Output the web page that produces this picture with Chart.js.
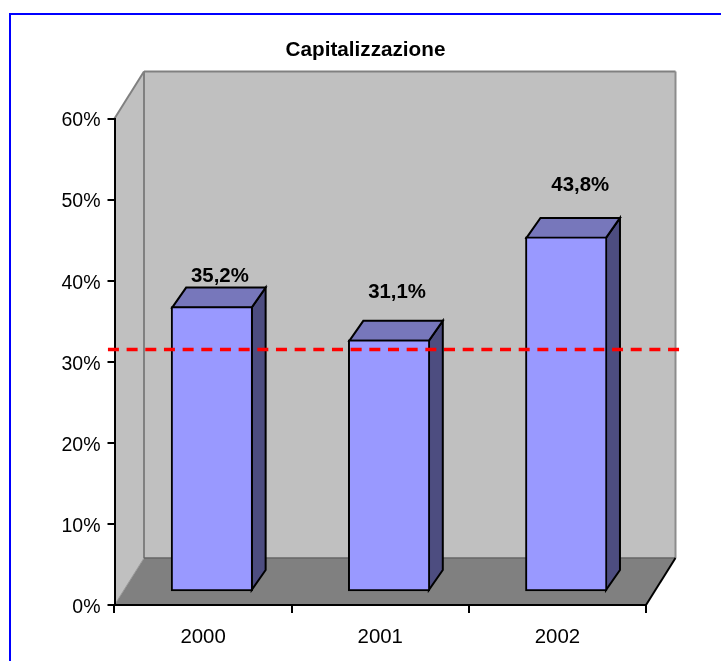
<!DOCTYPE html>
<html>
<head>
<meta charset="utf-8">
<script src="https://cdn.jsdelivr.net/npm/chart.js@4"></script>
<style>
    html, body { margin: 0; background: #fff; }
    #frame { position: absolute; left: 9px; top: 12.5px; width: 712px; height: 649px; border-left: 2px solid #00f; border-top: 2px solid #00f; box-sizing: border-box; }
    canvas { position: absolute; left: 0; top: 0; }
</style>
</head>
<body>
<canvas id="myChart" width="721" height="661"></canvas>
<div id="frame"></div>
<script>
const years = ['2000', '2001', '2002'];
const capitalizzazione = [35.2, 31.1, 43.8];
const yTicksMax = 60;
const yTicksStep = 10;
// the red dashed line runs past both ends of the axis
const redLineX = [-0.537, 2.697];
const redLineY = [31.5, 31.5];
// where each label floats relative to its bar, px
const labelLift = [32, 49, 53];
const labelShift = [8, 8, 14];

const wallDx = 29.5, wallDy = -47;
const barDx = 8.8, barDy = -13;
const sideDx = 14, sideDy = -20;
const fontName = '"Liberation Sans", Arial, sans-serif';

function poly(ctx, pts, fill, stroke, lw) {
    ctx.beginPath();
    pts.forEach((p, i) => i ? ctx.lineTo(p[0], p[1]) : ctx.moveTo(p[0], p[1]));
    ctx.closePath();
    ctx.fillStyle = fill;
    ctx.fill();
    if (stroke) {
        ctx.strokeStyle = stroke;
        ctx.lineWidth = lw;
        ctx.lineJoin = 'miter';
        ctx.stroke();
    }
}

function seg(ctx, x1, y1, x2, y2, color, lw) {
    ctx.beginPath();
    ctx.moveTo(x1, y1);
    ctx.lineTo(x2, y2);
    ctx.strokeStyle = color;
    ctx.lineWidth = lw;
    ctx.stroke();
}

const boxWalls = {
    id: 'boxWalls',
    beforeDraw(chart) {
        const { ctx, chartArea: a } = chart;
        const bx = a.left + wallDx, tx = a.right + wallDx;
        const by = a.bottom + wallDy, ty = a.top + wallDy;
        ctx.save();
        // back wall, side wall, floor
        poly(ctx, [[bx, ty], [tx, ty], [tx, by], [bx, by]], '#c0c0c0');
        poly(ctx, [[a.left, a.top], [bx, ty], [bx, by], [a.left, a.bottom]], '#c0c0c0');
        poly(ctx, [[a.left, a.bottom], [a.right, a.bottom], [tx, by], [bx, by]], '#808080');
        seg(ctx, bx, ty, tx, ty, '#808080', 2);
        seg(ctx, tx, ty, tx, by, '#8c8c8c', 2);
        seg(ctx, bx, ty, bx, by, '#808080', 2);
        seg(ctx, a.left, a.top, bx, ty, '#808080', 2);
        seg(ctx, a.left, a.bottom, bx, by, '#999', 1);
        seg(ctx, bx, by, tx, by, '#666', 1.5);
        seg(ctx, a.right, a.bottom, tx, by, '#000', 2);
        ctx.restore();
    }
};

const bars3d = {
    id: 'bars3d',
    beforeDatasetDraw(chart, args) {
        if (args.index !== 0) return;
        const ctx = chart.ctx;
        ctx.save();
        ctx.translate(barDx, barDy);
        chart.getDatasetMeta(0).data.forEach(el => {
            const r = el.x + el.width / 2 - 1, l = el.x - el.width / 2 + 1;
            const t = el.y + 1, b = el.base - 1;
            poly(ctx, [[r, t], [r + sideDx, t + sideDy], [r + sideDx, b + sideDy], [r, b]], '#4d4d80', '#000', 2);
            poly(ctx, [[l, t], [l + sideDx, t + sideDy], [r + sideDx, t + sideDy], [r, t]], '#7777bb', '#000', 2);
        });
    },
    afterDatasetDraw(chart, args) {
        if (args.index === 0) chart.ctx.restore();
    },
    afterDatasetsDraw(chart) {
        const ctx = chart.ctx;
        ctx.save();
        ctx.font = 'bold 20.4px ' + fontName;
        ctx.fillStyle = '#000';
        ctx.textAlign = 'center';
        ctx.textBaseline = 'middle';
        chart.getDatasetMeta(0).data.forEach((el, i) => {
            const txt = capitalizzazione[i].toFixed(1).replace('.', ',') + '%';
            ctx.fillText(txt, el.x + barDx + labelShift[i], el.y + barDy - labelLift[i] + 1.5);
        });
        ctx.restore();
    }
};

const chart = new Chart(document.getElementById('myChart'), {
    data: {
        labels: years,
        datasets: [{
            type: 'bar',
            label: 'Capitalizzazione',
            data: capitalizzazione,
            backgroundColor: '#9999ff',
            borderColor: '#000',
            borderWidth: 2,
            borderSkipped: false,
            barThickness: 81.5,
            clip: false,
            order: 2
        }, {
            type: 'line',
            parsing: false,
            data: redLineX.map((x, i) => ({ x: x, y: redLineY[i] })),
            borderColor: '#ff0000',
            borderWidth: 3.5,
            borderDash: [11, 7.67],
            pointRadius: 0,
            clip: false,
            order: 1
        }]
    },
    plugins: [boxWalls, bars3d],
    options: {
        responsive: false,
        animation: false,
        layout: { padding: { left: 10, right: 0, top: 0, bottom: 0 } },
        plugins: {
            legend: { display: false },
            tooltip: { enabled: false },
            title: {
                display: true,
                text: 'Capitalizzazione',
                color: '#000',
                font: { family: fontName, size: 20.7, weight: 'bold' },
                padding: { top: 38, bottom: 55.7 }
            }
        },
        scales: {
            x: {
                afterFit(scale) { scale.height = 56; },
                grid: { drawOnChartArea: false, color: '#000', tickLength: 8, lineWidth: 2 },
                border: { color: '#000', width: 2 },
                ticks: { color: '#000', padding: 12, font: { family: fontName, size: 20.4 } }
            },
            y: {
                min: 0,
                max: yTicksMax,
                afterFit(scale) { scale.width = 104.5; },
                grid: { drawOnChartArea: false, color: '#000', tickLength: 7, lineWidth: 2 },
                border: { color: '#000', width: 2 },
                ticks: {
                    stepSize: yTicksStep,
                    color: '#000',
                    padding: 7,
                    labelOffset: 2.5,
                    font: { family: fontName, size: 19.5 },
                    callback: v => v + '%'
                }
            },
            yRight: {
                type: 'linear',
                position: 'right',
                afterFit(scale) { scale.width = 75; },
                grid: { display: false },
                border: { display: false },
                ticks: { display: false }
            }
        }
    }
});
</script>
</body>
</html>
